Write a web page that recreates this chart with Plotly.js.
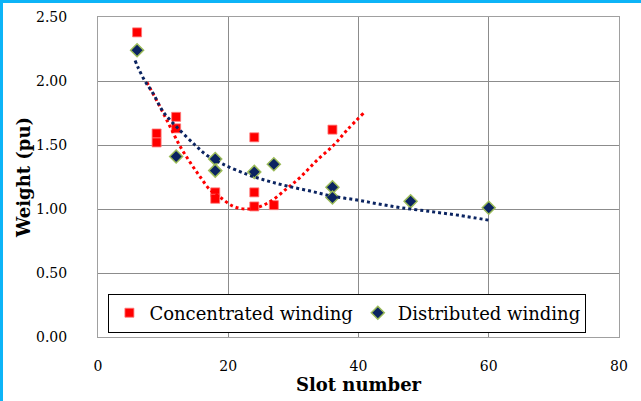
<!DOCTYPE html>
<html>
<head>
<meta charset="utf-8">
<script src="https://cdn.plot.ly/plotly-3.0.1.min.js"></script>
<style>
  html, body { margin: 0; padding: 0; background: #fff; }
  #wrap { position: relative; width: 641px; height: 401px; overflow: hidden; }
  #chart { position: absolute; left: 0; top: 0; width: 641px; height: 401px; }
  #chart svg text { font-family: 'DejaVu Serif', 'Liberation Serif', serif !important; }
  .edgeT { position: absolute; left: 0; top: 0; width: 641px; height: 3px; background: #0db4f7; }
  .edgeL { position: absolute; left: 0; top: 0; width: 3px; height: 401px; background: #0db4f7; }
</style>
</head>
<body>
<div id="wrap">
  <div id="chart"></div>
  <div class="edgeT"></div>
  <div class="edgeL"></div>
</div>
<script>
// Concentrated winding data
const concSlots   = [6, 9, 9, 12, 12, 18, 18, 24, 24, 24, 27, 36];
const concWeights = [2.38, 1.59, 1.52, 1.72, 1.63, 1.13, 1.08, 1.56, 1.13, 1.02, 1.03, 1.62];

// Distributed winding data
const distSlots   = [6, 12, 18, 18, 24, 27, 36, 36, 48, 60];
const distWeights = [2.24, 1.41, 1.39, 1.30, 1.29, 1.35, 1.17, 1.09, 1.06, 1.01];

// Trendline samples
const concTrendX = [7.5, 9.5, 11.1, 12.6, 14.2, 15.7, 17.2, 18.8, 20.8, 22.6, 24.4, 26.5, 29.0, 31.1, 33.6, 36.2, 38.3, 40.8];
const concTrendY = [1.99, 1.80, 1.64, 1.49, 1.36, 1.25, 1.15, 1.09, 1.02, 1.00, 1.01, 1.06, 1.16, 1.25, 1.38, 1.50, 1.62, 1.75];

const distTrendX = [5.7, 6.2, 7.2, 8.5, 10.0, 12.1, 14.9, 16.7, 19.2, 22.9, 26.0, 29.0, 32.6, 36.0, 39.8, 43.0, 46.5, 51.1, 55.5, 60.3];
const distTrendY = [2.16, 2.10, 2.00, 1.90, 1.76, 1.64, 1.50, 1.42, 1.35, 1.27, 1.22, 1.18, 1.14, 1.10, 1.07, 1.04, 1.01, 0.98, 0.95, 0.91];

// Axis ticks
const xTicks = [0, 20, 40, 60, 80];
const yTicks = [0, 0.5, 1.0, 1.5, 2.0, 2.5];
const yTickLabels = ["0.00", "0.50", "1.00", "1.50", "2.00", "2.50"];

const FONT = "'DejaVu Serif', 'Liberation Serif', serif";

const traces = [
  {
    x: concSlots, y: concWeights, type: "scatter", mode: "markers",
    name: "Concentrated winding",
    marker: { symbol: "square", size: 9, color: "#ff0000",
              line: { color: "rgba(255,120,120,0.8)", width: 1 } }
  },
  {
    x: distSlots, y: distWeights, type: "scatter", mode: "markers",
    name: "Distributed winding",
    marker: { symbol: "diamond", size: 10, color: "#0b2461",
              line: { color: "#9bbb59", width: 1.5 } }
  },
  {
    x: concTrendX, y: concTrendY, type: "scatter", mode: "lines",
    showlegend: false, hoverinfo: "skip", line: { shape: "spline", color: "#ff0000", width: 3, dash: "3px,3px" }
  },
  {
    x: distTrendX, y: distTrendY, type: "scatter", mode: "lines",
    showlegend: false, hoverinfo: "skip", line: { shape: "spline", color: "#0b2461", width: 3, dash: "3px,3px" }
  }
];

const layout = {
  width: 641, height: 401,
  margin: { l: 98, r: 22, t: 17, b: 64, pad: 0 },
  paper_bgcolor: "#ffffff", plot_bgcolor: "#ffffff",
  font: { family: FONT, size: 14, color: "#000" },
  showlegend: true,
  legend: {
    orientation: "h", x: 0.02, y: 0.075, xanchor: "left", yanchor: "middle",
    bgcolor: "#ffffff", bordercolor: "#000000", borderwidth: 1,
    font: { family: FONT, size: 18, color: "#000" },
    itemwidth: 30, tracegroupgap: 0
  },
  xaxis: {
    range: [0, 80], tickvals: xTicks, ticktext: xTicks.map(String),
    showgrid: true, gridcolor: "#8c8c8c", gridwidth: 1,
    showline: true, linecolor: "#a0a0a0", linewidth: 1, mirror: true,
    zeroline: false, ticks: "", ticklabelstandoff: 16,
    tickfont: { family: FONT, size: 14 },
    title: { text: "<b>Slot number</b>", font: { family: FONT, size: 18 }, standoff: 5 }
  },
  yaxis: {
    range: [0, 2.5], tickvals: yTicks, ticktext: yTickLabels,
    showgrid: true, gridcolor: "#8c8c8c", gridwidth: 1,
    showline: true, linecolor: "#a0a0a0", linewidth: 1, mirror: true,
    zeroline: false, ticks: "", ticklabelstandoff: 27,
    tickfont: { family: FONT, size: 14 },
    title: { text: "<b>Weight (pu)</b>", font: { family: FONT, size: 18 }, standoff: 0 }
  }
};

Plotly.newPlot("chart", traces, layout, { staticPlot: true, displayModeBar: false });
</script>
</body>
</html>
